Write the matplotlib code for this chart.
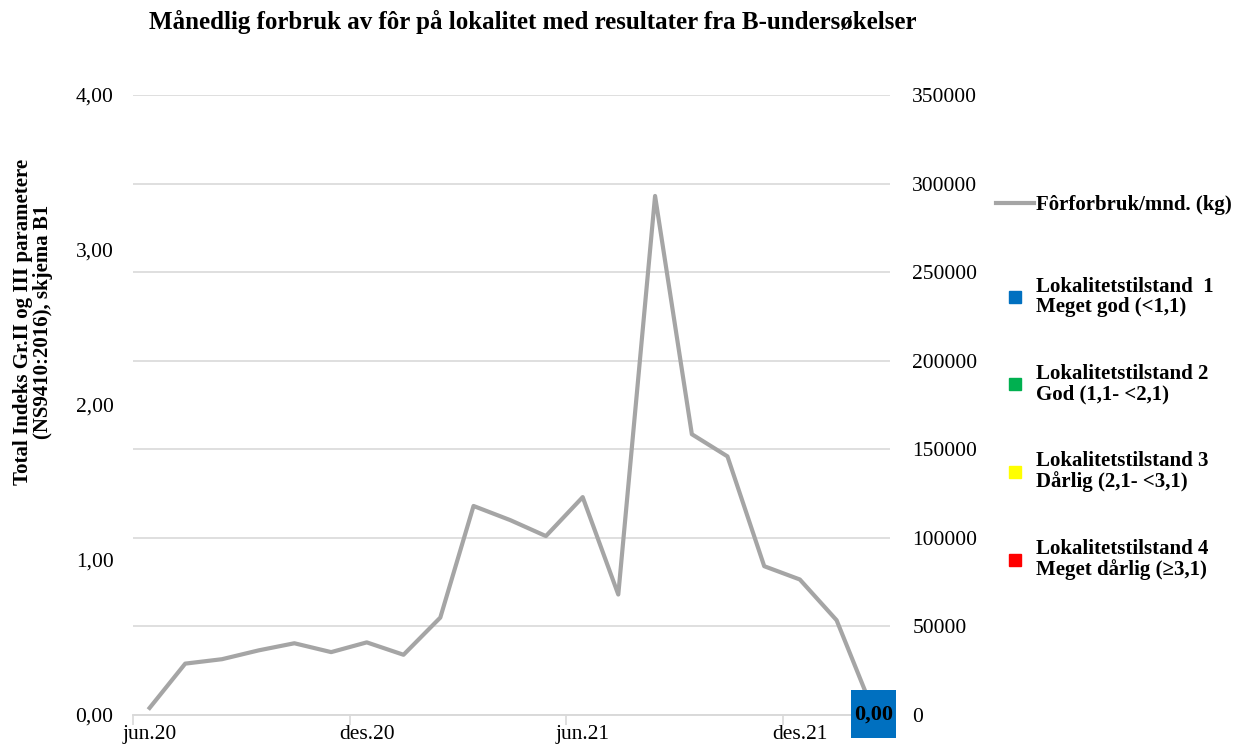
import matplotlib
matplotlib.use('agg')
import matplotlib.pyplot as plt
import matplotlib.ticker as tkr
from matplotlib.lines import Line2D
import datetime as dt

# monthly feed use (kg), plotted mid-month
months = ['2020-06', '2020-07', '2020-08', '2020-09', '2020-10', '2020-11',
          '2020-12', '2021-01', '2021-02', '2021-03', '2021-04', '2021-05',
          '2021-06', '2021-07', '2021-08', '2021-09', '2021-10', '2021-11',
          '2021-12', '2022-01', '2022-02']
feed_kg = [4000, 29000, 31500, 36500, 40500, 35500,
           41000, 34000, 55000, 118000, 110000, 101000,
           123000, 68000, 293000, 158500, 146000, 84000,
           76500, 53500, 2000]

# B-survey result (index) and its state colour
survey_month = '2022-02'
survey_index = 0.00
survey_colour = '#0070C0'

tick_months = ['2020-06', '2020-12', '2021-06', '2021-12']
tick_labels = ['jun.20', 'des.20', 'jun.21', 'des.21']

line_label = 'Fôrforbruk/mnd. (kg)'
state_labels = ['Lokalitetstilstand  1\nMeget god (<1,1)',
                'Lokalitetstilstand 2\nGod (1,1- <2,1)',
                'Lokalitetstilstand 3\nDårlig (2,1- <3,1)',
                'Lokalitetstilstand 4\nMeget dårlig (≥3,1)']
state_colours = ['#0070C0', '#00B050', '#FFFF00', '#FF0000']


def mid(m):
    y, mo = m.split('-')
    return dt.date(int(y), int(mo), 15)


def first(m):
    y, mo = m.split('-')
    return dt.date(int(y), int(mo), 1)


def comma(v, p=None):
    return f'{v:.2f}'.replace('.', ',')


plt.rcParams['font.family'] = ['Liberation Serif', 'DejaVu Serif']
grid_c = '#D9D9D9'
line_c = '#A5A5A5'
W, H = 1237, 748

fig = plt.figure(figsize=(W / 100, H / 100), dpi=100)
ax = fig.add_axes([133 / W, 1 - 715 / H, (890 - 133) / W, (715 - 95) / H])
ax2 = ax.twinx()

x = [mid(m) for m in months]
ax2.plot(x, feed_kg, color=line_c, lw=3, zorder=3)
ax2.set_ylim(0, 350000)
ax2.yaxis.set_major_locator(tkr.MultipleLocator(50000))
ax2.grid(axis='y', color=grid_c, lw=1.2, zorder=0)
ax2.tick_params(axis='y', length=0, pad=16, labelsize=15.5)

ax.set_ylim(0, 4)
ax.yaxis.set_major_locator(tkr.MultipleLocator(1))
ax.yaxis.set_major_formatter(tkr.FuncFormatter(comma))
ax.tick_params(axis='y', length=0, pad=14, labelsize=15.5)
ax.set_xlim(dt.date(2020, 6, 1), dt.date(2022, 3, 1))

# tick marks at month start, labels centred on mid-month
ax.set_xticks([first(m) for m in tick_months])
ax.set_xticklabels([])
ax.tick_params(axis='x', which='major', length=7, color=grid_c, width=1.2)
ax.set_xticks([mid(m) for m in tick_months], minor=True)
ax.set_xticklabels(tick_labels, minor=True)
ax.tick_params(axis='x', which='minor', length=0, pad=7, labelsize=15.5)

for a in (ax, ax2):
    for s in ('top', 'left', 'right'):
        a.spines[s].set_visible(False)
    a.spines['bottom'].set_color(grid_c)
    a.spines['bottom'].set_linewidth(1.2)

fig.text(33 / W, 1 - 322 / H,
         'Total Indeks Gr.II og III parametere\n(NS9410:2016), skjema B1',
         rotation=90, ha='center', va='center', fontsize=15, fontweight='bold',
         linespacing=0.95)

# survey result: filled label box on top of the line (drawn in feed-axis units)
kg_per_px = 350000 / 620
y_kg = survey_index / 4 * 350000
ax2.bar(mid(survey_month), 48 * kg_per_px, bottom=y_kg - 23 * kg_per_px, width=38,
        color=survey_colour, zorder=5, clip_on=False)
ax2.text(mid(survey_month), y_kg, comma(survey_index), ha='center', va='center',
         fontsize=16, fontweight='bold', zorder=6, clip_on=False)

fig.text(533 / W, 1 - 22 / H,
         'Månedlig forbruk av fôr på lokalitet med resultater fra B-undersøkelser',
         ha='center', va='center', fontsize=18, fontweight='bold')

leg1 = fig.legend([Line2D([], [], color=line_c, lw=3)], [line_label],
                  loc='center left', bbox_to_anchor=(996 / W, 1 - 205 / H),
                  frameon=False, prop={'size': 15, 'weight': 'bold'},
                  handlelength=1.8, handletextpad=0.1, borderpad=0, borderaxespad=0)
handles = [Line2D([], [], ls='none', marker='s', markersize=9, color=c) for c in state_colours]
leg2 = fig.legend(handles, state_labels, loc='upper left',
                  bbox_to_anchor=(996 / W, 1 - 277 / H),
                  frameon=False, prop={'size': 15, 'weight': 'bold'},
                  handlelength=1.8, handletextpad=0.1, labelspacing=2.26,
                  borderpad=0, borderaxespad=0)
for t in leg2.get_texts():
    t.set_linespacing(1.0)

plt.savefig('out.png', dpi=100)
plt.close()
